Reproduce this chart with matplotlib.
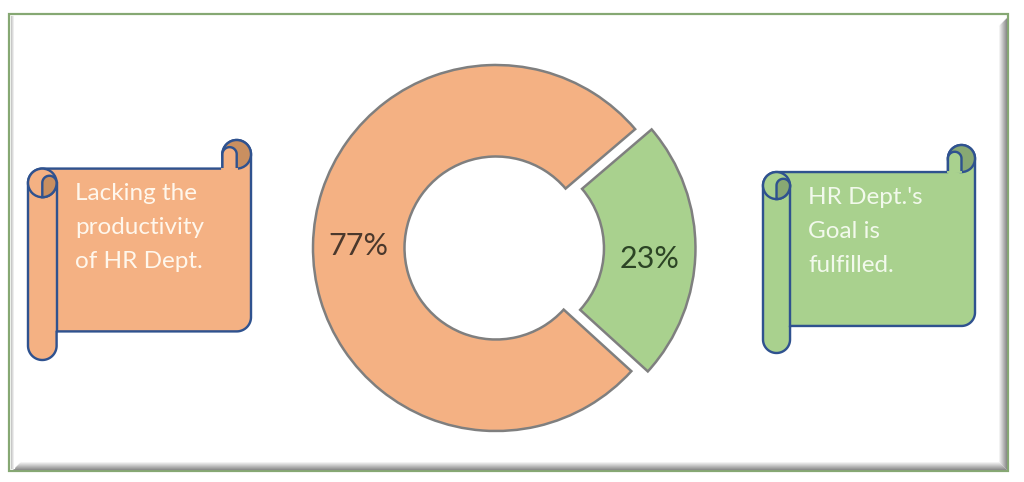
import numpy as np
import matplotlib.pyplot as plt
from matplotlib.patches import Polygon, Circle, Rectangle

# ---- data ----
categories = ["Lacking the productivity of HR Dept.", "HR Dept.'s Goal is fulfilled."]
shares = [77, 23]
wedge_colors = ["#F4B183", "#A9D18E"]
pct_colors = ["#4A382C", "#2C4425"]
scroll_texts = ["Lacking the\nproductivity\nof HR Dept.", "HR Dept.'s\nGoal is\nfulfilled."]
scroll_fill = ["#F4B183", "#A9D18E"]
scroll_dark = ["#C98F60", "#88A873"]
scroll_text_color = ["#FFF7EC", "#F2F9EC"]

W, H = 1024, 482
fig = plt.figure(figsize=(W / 100, H / 100), dpi=100)
fig.patch.set_facecolor("white")
bg = fig.add_axes([0, 0, 1, 1])
bg.set_xlim(0, W)
bg.set_ylim(H, 0)
bg.axis("off")

PX = 0.72  # points per pixel

# ---- frame with inner bevel shadow ----
fx0, fy0, fx1, fy1 = 9, 14, 1008, 471
for i in range(9):
    g = 0.55 + 0.45 * (i / 8.0)
    col = (g, g, g)
    bg.plot([fx1 - 2 - i, fx1 - 2 - i], [fy0 + 4 + i, fy1 - 2 - i], color=col, lw=1.2 * PX, solid_capstyle="butt")
    bg.plot([fx0 + 4 + i, fx1 - 2 - i], [fy1 - 2 - i, fy1 - 2 - i], color=col, lw=1.2 * PX, solid_capstyle="butt")
for i in range(4):
    g = 0.78 + 0.22 * (i / 3.0)
    bg.plot([fx0 + 2 + i, fx0 + 2 + i], [fy0 + 2, fy1 - 3], color=(g, g, g), lw=1.2 * PX)
bg.add_patch(Rectangle((fx0, fy0), fx1 - fx0, fy1 - fy0, fill=False, edgecolor="#86A873", lw=2.2 * PX))


def arc(cx, cy, r, a0, a1, n=40):
    a = np.radians(np.linspace(a0, a1, n))
    return np.column_stack([cx + r * np.cos(a), cy + r * np.sin(a)])


def scroll(x0, y0, x1, y1, fill, dark, edge="#2F528F", lw=2.4):
    ss = min(x1 - x0, y1 - y0)
    ch = ss * 0.13
    ch2, ch4 = ch / 2, ch / 4
    lw = lw * PX
    pts = [np.array([[x1, y0 + ch2], [x1, y1 - ch - ch2]]),
           arc(x1 - ch2, y1 - ch - ch2, ch2, 0, 90),
           np.array([[x0 + ch, y1 - ch], [x0 + ch, y1 - ch2]]),
           arc(x0 + ch2, y1 - ch2, ch2, 0, 180),
           np.array([[x0, y0 + ch + ch2]]),
           arc(x0 + ch2, y0 + ch + ch2, ch2, 180, 270),
           np.array([[x1 - ch, y0 + ch], [x1 - ch, y0 + ch2]]),
           arc(x1 - ch2, y0 + ch2, ch2, 180, 360)]
    body = np.vstack(pts)
    bg.add_patch(Polygon(body, closed=True, facecolor=fill, edgecolor=edge, lw=lw, joinstyle="round", zorder=2))
    # left tube edge
    bg.plot([x0 + ch, x0 + ch], [y0 + ch + ch2, y1 - ch], color=edge, lw=lw, zorder=3)
    # left curl
    bg.add_patch(Circle((x0 + ch2, y0 + ch + ch2), ch2, facecolor=fill, edgecolor=edge, lw=lw, zorder=3))
    blob = np.vstack([arc(x0 + ch2, y0 + ch + ch2, ch2, 90, 0),
                      arc(x0 + ch - ch4, y0 + ch + ch2, ch4, 0, -180)])
    bg.add_patch(Polygon(blob, closed=True, facecolor=dark, edgecolor=edge, lw=lw, zorder=4))
    # right curl
    bg.add_patch(Circle((x1 - ch2, y0 + ch2), ch2, facecolor=dark, edgecolor=edge, lw=lw, zorder=3))
    inner = np.vstack([np.array([[x1 - ch, y0 + ch]]),
                       arc(x1 - ch + ch4, y0 + ch2, ch4, 180, 360),
                       np.array([[x1 - ch2, y0 + ch]])])
    bg.add_patch(Polygon(inner, closed=False, facecolor=fill, edgecolor=edge, lw=lw, zorder=4))
    bg.plot([x1 - ch, x1 - ch2], [y0 + ch, y0 + ch], color=fill, lw=lw * 0.8, zorder=4)


scroll(28, 140, 251, 360, scroll_fill[0], scroll_dark[0])
scroll(763, 145, 975, 353, scroll_fill[1], scroll_dark[1])

bg.text(75, 183, scroll_texts[0], fontsize=17.5, family="Lato", color=scroll_text_color[0],
        va="top", ha="left", linespacing=1.75, zorder=5)
bg.text(808, 187, scroll_texts[1], fontsize=17.5, family="Lato", color=scroll_text_color[1],
        va="top", ha="left", linespacing=1.75, zorder=5)

# ---- donut ----
cx, cy, R = 496, 248, 183
half = 200
ax = fig.add_axes([(cx - half) / W, (H - cy - half) / H, 2 * half / W, 2 * half / H])
ax.patch.set_alpha(0)
wedges, texts, autotexts = ax.pie(
    shares, colors=wedge_colors, startangle=40.5, counterclock=True,
    explode=[0, 0.09], autopct="%.0f%%", pctdistance=0.75,
    wedgeprops=dict(width=0.5, edgecolor="#7F7F7F", linewidth=2.5 * PX),
)
for t, c in zip(autotexts, pct_colors):
    t.set_color(c)
    t.set_fontsize(22)
    t.set_family("Lato")
# the small label sits slightly below the centre line in the original
x2, y2 = autotexts[1].get_position()
autotexts[1].set_position((x2, y2 - 0.045))
L = half / R
ax.set_xlim(-L, L)
ax.set_ylim(-L, L)
ax.set_aspect("equal")
ax.axis("off")

fig.savefig("out.png", dpi=100, facecolor="white")
